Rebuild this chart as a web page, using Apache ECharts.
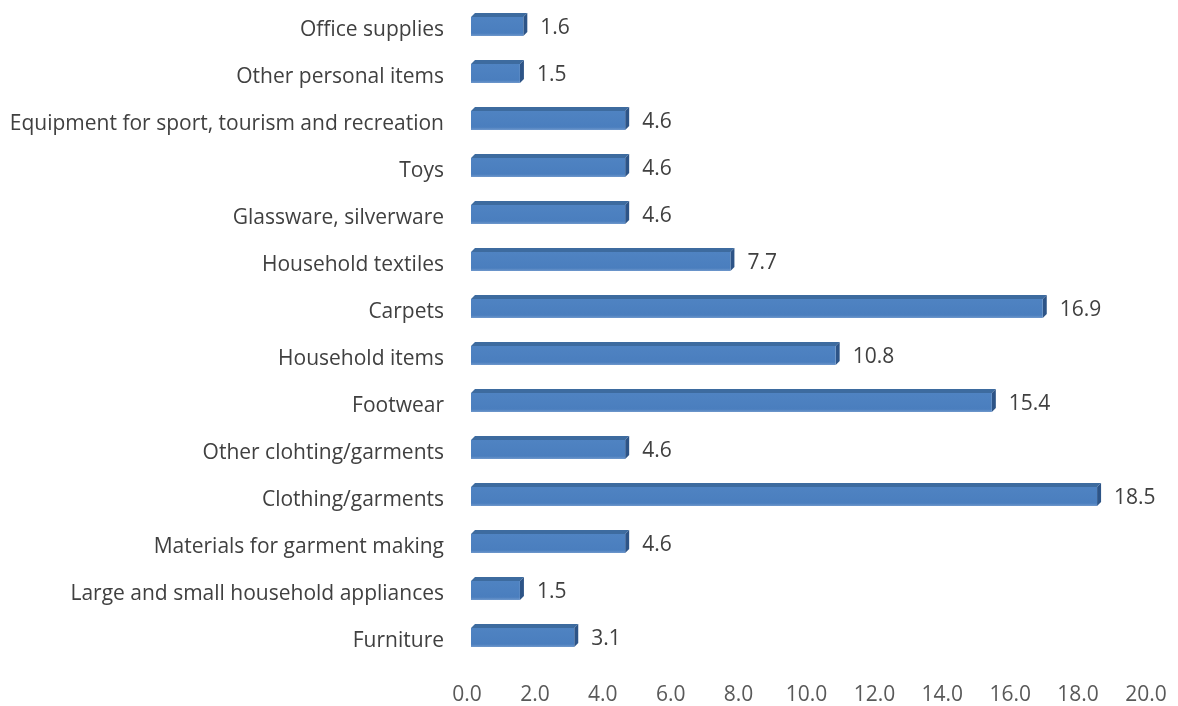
<!DOCTYPE html>
<html>
<head>
<meta charset="utf-8">
<script src="https://cdn.jsdelivr.net/npm/echarts@6/dist/echarts.min.js"></script>
<style>
  html, body { margin: 0; padding: 0; background: #fff; }
  #chart { width: 1178px; height: 706px; }
</style>
</head>
<body>
<div id="chart"></div>
<script>
// Categories, listed from top to bottom
const categories = [
  'Office supplies',
  'Other personal items',
  'Equipment for sport, tourism and recreation',
  'Toys',
  'Glassware, silverware',
  'Household textiles',
  'Carpets',
  'Household items',
  'Footwear',
  'Other clohting/garments',
  'Clothing/garments',
  'Materials for garment making',
  'Large and small household appliances',
  'Furniture'
];
// Share values, same order as categories
const values = [1.6, 1.5, 4.6, 4.6, 4.6, 7.7, 16.9, 10.8, 15.4, 4.6, 18.5, 4.6, 1.5, 3.1];
// Value axis range and tick step
const axisMin = 0;
const axisMax = 20;
const axisStep = 2;

const FRONT = '#4a7ebe';
const TOP = '#3d6b9f';
const SIDE = '#2d5487';
const DEPTH = 4;
const BAR_H = 19;
const FONT = '"Open Sans", "Liberation Sans", Arial, sans-serif';

const chart = echarts.init(document.getElementById('chart'));

// Draws one bar as a box: front face, top face and right side face
function renderBar(params, api) {
  const v = api.value(0);
  const idx = api.value(1);
  const p0 = api.coord([axisMin, idx]);
  const p1 = api.coord([v, idx]);
  const x0 = p0[0] + 4;
  const x1 = p1[0] + 2;
  const yc = p0[1] - 4;
  const yt = yc - BAR_H / 2;
  const yb = yc + BAR_H / 2;
  const d = DEPTH;
  return {
    type: 'group',
    children: [
      {
        type: 'polygon',
        shape: { points: [[x0, yt], [x1, yt], [x1 + d, yt - d], [x0 + d, yt - d]] },
        style: { fill: TOP }
      },
      {
        type: 'polygon',
        shape: { points: [[x1, yt], [x1 + d, yt - d], [x1 + d, yb - d], [x1, yb]] },
        style: { fill: SIDE }
      },
      {
        type: 'rect',
        shape: { x: x0, y: yt, width: x1 - x0, height: BAR_H },
        style: {
          fill: new echarts.graphic.LinearGradient(0, 0, 0, 1, [
            { offset: 0, color: '#4f83c2' },
            { offset: 0.85, color: FRONT },
            { offset: 1, color: '#6f98cc' }
          ])
        }
      },
      {
        type: 'text',
        style: {
          x: x1 + d + 13,
          y: p0[1] - 2,
          text: v.toFixed(1),
          fill: '#404040',
          font: '21px ' + FONT,
          verticalAlign: 'middle',
          align: 'left'
        }
      }
    ]
  };
}

chart.setOption({
  animation: false,
  grid: { left: 467, right: 32, top: 7, bottom: 41 },
  xAxis: {
    type: 'value',
    min: axisMin,
    max: axisMax,
    interval: axisStep,
    axisLine: { show: false },
    axisTick: { show: false },
    splitLine: { show: false },
    axisLabel: {
      margin: 20,
      color: '#595959',
      fontSize: 21,
      fontFamily: FONT,
      formatter: (val) => val.toFixed(1)
    }
  },
  yAxis: {
    type: 'category',
    inverse: true,
    data: categories,
    axisLine: { show: false },
    axisTick: { show: false },
    axisLabel: {
      margin: 23,
      color: '#404040',
      fontSize: 21,
      fontFamily: FONT
    }
  },
  series: [{
    type: 'custom',
    renderItem: renderBar,
    encode: { x: 0, y: 1 },
    data: values.map((v, i) => [v, i])
  }]
});
</script>
</body>
</html>
